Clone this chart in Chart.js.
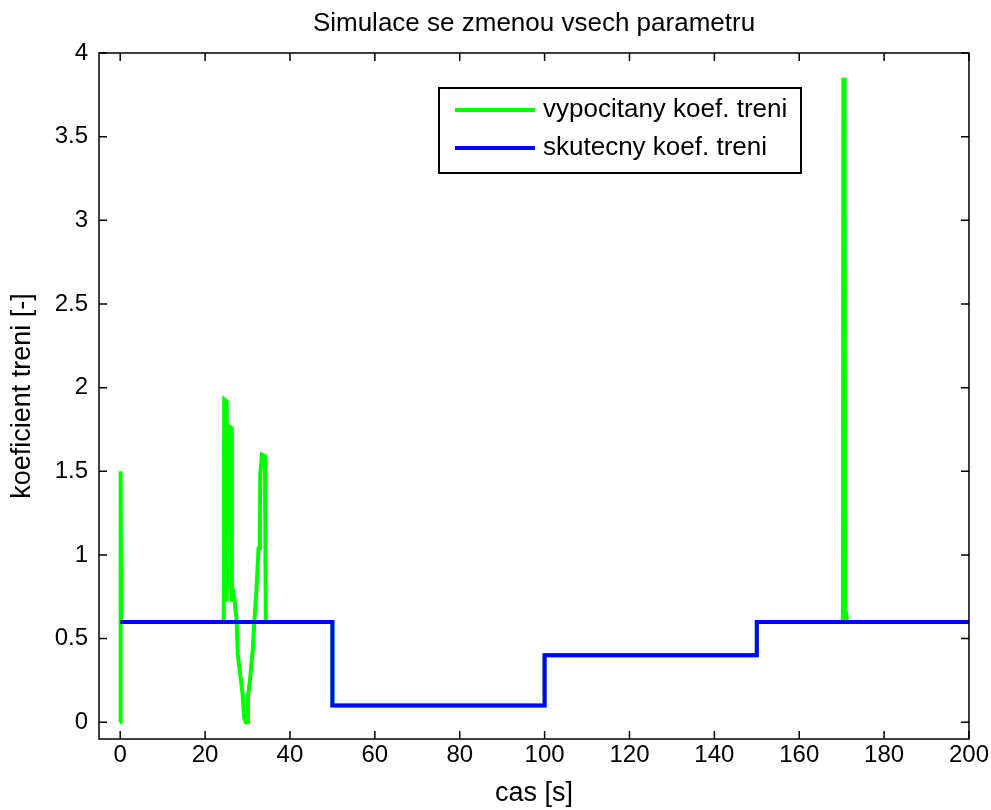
<!DOCTYPE html>
<html>
<head>
<meta charset="utf-8">
<script src="https://cdn.jsdelivr.net/npm/chart.js@4.4.1/dist/chart.umd.min.js"></script>
<style>
    body { margin: 0; background: #fff; }
    canvas { display: block; }
</style>
</head>
<body>
<canvas id="chart" width="991" height="810"></canvas>
<script>
// data
const xTicks = [0, 20, 40, 60, 80, 100, 120, 140, 160, 180, 200];
const yTicks = [0, 0.5, 1, 1.5, 2, 2.5, 3, 3.5, 4];

// vypocitany koef. treni (green)
const greenT = [0, 0.05, 0.15, 0.2, 24.4, 24.5, 25.0, 25.1, 25.6, 26.2, 26.3, 26.6, 27.0, 27.4, 27.7, 28.2, 28.8, 29.2, 29.6, 30.0,
    30.1, 30.6, 31.2, 31.7, 32.1, 32.6, 32.9, 33.0, 33.4, 34.1, 34.3, 50, 50, 100, 100, 150, 150,
    170.3, 170.4, 170.7, 170.8, 171.1, 171.3, 200];
const greenY = [0, 1.5, 1.5, 0.6, 0.6, 1.93, 1.92, 0.72, 1.77, 1.76, 0.72, 0.78, 0.72, 0.62, 0.41, 0.30, 0.18, 0.03, 0, 0,
    0.15, 0.26, 0.42, 0.64, 0.79, 1.04, 1.04, 1.48, 1.6, 1.59, 0.6, 0.6, 0.1, 0.1, 0.4, 0.4, 0.6,
    0.6, 3.84, 3.84, 0.68, 0.65, 0.6, 0.6];

// skutecny koef. treni (blue)
const blueT = [0, 50, 50, 100, 100, 150, 150, 200];
const blueY = [0.6, 0.6, 0.1, 0.1, 0.4, 0.4, 0.6, 0.6];

const FONT = '"Liberation Sans", Arial, sans-serif';

// MATLAB style box with inward ticks + legend
const matlabAxes = {
    id: 'matlabAxes',
    afterDraw(chart) {
        const ctx = chart.ctx;
        const a = chart.chartArea;
        const xs = chart.scales.x, ys = chart.scales.y;
        const len = 8;
        ctx.save();
        ctx.strokeStyle = '#000';
        ctx.lineWidth = 1.5;
        ctx.strokeRect(a.left, a.top, a.right - a.left, a.bottom - a.top);
        ctx.beginPath();
        xTicks.forEach(v => {
            const px = xs.getPixelForValue(v);
            ctx.moveTo(px, a.bottom); ctx.lineTo(px, a.bottom - len);
            ctx.moveTo(px, a.top); ctx.lineTo(px, a.top + len);
        });
        yTicks.forEach(v => {
            const py = ys.getPixelForValue(v);
            ctx.moveTo(a.left, py); ctx.lineTo(a.left + len, py);
            ctx.moveTo(a.right, py); ctx.lineTo(a.right - len, py);
        });
        ctx.stroke();

        // legend
        const bx = 439, by = 88, bw = 362, bh = 85;
        ctx.fillStyle = '#fff';
        ctx.fillRect(bx, by, bw, bh);
        ctx.lineWidth = 2;
        ctx.strokeRect(bx, by, bw, bh);
        ctx.font = '26px ' + FONT;
        ctx.textBaseline = 'middle';
        ctx.textAlign = 'left';
        chart.data.datasets.forEach((ds, i) => {
            const y = by + 22 + i * 38;
            ctx.strokeStyle = ds.borderColor;
            ctx.lineWidth = 4;
            ctx.beginPath();
            ctx.moveTo(bx + 16, y); ctx.lineTo(bx + 96, y);
            ctx.stroke();
            ctx.fillStyle = '#000';
            ctx.fillText(ds.label, bx + 104, y);
        });
        ctx.restore();
    }
};

const ctx = document.getElementById('chart').getContext('2d');
new Chart(ctx, {
    type: 'line',
    data: {
        datasets: [
            {
                label: 'vypocitany koef. treni',
                data: greenT.map((t, i) => ({ x: t, y: greenY[i] })),
                borderColor: '#00ff00',
                borderWidth: 4,
                pointRadius: 0,
                tension: 0,
                order: 1
            },
            {
                label: 'skutecny koef. treni',
                data: blueT.map((t, i) => ({ x: t, y: blueY[i] })),
                borderColor: '#0000ff',
                borderWidth: 4,
                pointRadius: 0,
                tension: 0,
                order: 0
            }
        ]
    },
    options: {
        responsive: false,
        animation: false,
        devicePixelRatio: 1,
        layout: { padding: { left: 0, right: 22, top: 0, bottom: 0 } },
        plugins: {
            legend: { display: false },
            tooltip: { enabled: false },
            title: {
                display: true,
                fullSize: false,
                text: 'Simulace se zmenou vsech parametru',
                color: '#000',
                font: { family: FONT, size: 26, weight: 'normal' },
                padding: { top: 8, bottom: 13.8 }
            }
        },
        scales: {
            x: {
                type: 'linear',
                min: -5,
                max: 200,
                afterBuildTicks: s => { s.ticks = xTicks.map(v => ({ value: v })); },
                afterFit: s => { s.height = 71; },
                grid: { display: false, drawTicks: false },
                border: { display: false },
                ticks: {
                    color: '#000',
                    font: { family: FONT, size: 24 },
                    padding: 2,
                    maxRotation: 0,
                    autoSkip: false
                },
                title: {
                    display: true,
                    text: 'cas [s]',
                    color: '#000',
                    font: { family: FONT, size: 27 },
                    padding: { top: 0, bottom: 0 }
                }
            },
            y: {
                min: -0.1,
                max: 4,
                afterBuildTicks: s => { s.ticks = yTicks.map(v => ({ value: v })); },
                afterFit: s => { s.width = 99; },
                grid: { display: false, drawTicks: false },
                border: { display: false },
                ticks: {
                    color: '#000',
                    font: { family: FONT, size: 24 },
                    padding: 11,
                    autoSkip: false,
                    callback: v => String(v)
                },
                title: {
                    display: true,
                    text: 'koeficient treni [-]',
                    color: '#000',
                    font: { family: FONT, size: 27 },
                    padding: { top: 6, bottom: 0 }
                }
            }
        }
    },
    plugins: [matlabAxes]
});
</script>
</body>
</html>
